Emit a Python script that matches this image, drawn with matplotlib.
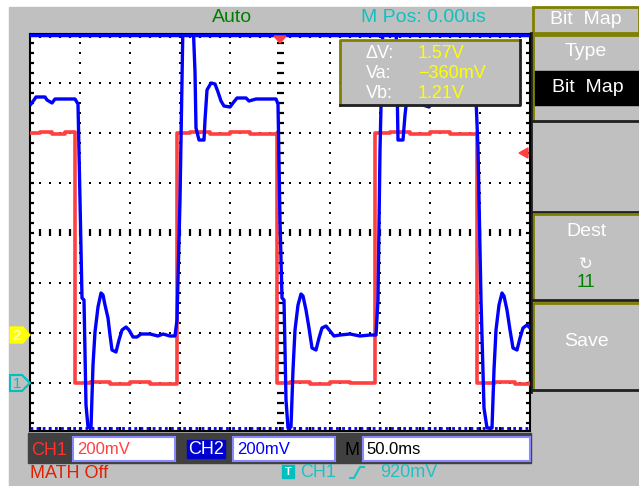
import numpy as np
import matplotlib
matplotlib.use("Agg")
import matplotlib.pyplot as plt
from matplotlib.patches import Rectangle, Polygon

# ---------------- data ----------------
time_per_div_ms = 50
ch1_scale_mv = 200
ch2_scale_mv = 200
ch1_offset_div = -3.0
ch2_offset_div = -2.1
trigger_level_mv = 920

# CH1 (red) square wave: time (ms from trigger) and level (mV)
ch1_t = [-250, -240, -228, -215, -205, -205, -190, -170, -150, -130, -103,
         -103, -90, -70, -50, -30, -3, -3, 10, 30, 50, 70, 95,
         95, 110, 130, 150, 170, 197, 197, 215, 235, 250]
ch1_mv = [1000, 1004, 996, 1004, 1000, 0, 4, -4, 4, -4, 0,
          1000, 1004, 996, 1004, 996, 1000, 0, 4, -4, 4, 0, 0,
          1000, 1004, 996, 1004, 996, 1000, 0, 4, -4, 0]

# CH2 (blue) response with ringing: time (ms) and level (mV)
ch2_t = [-249, -246, -244, -235, -233, -228, -225, -205, -202, -200, -198, -196,
         -194, -192, -189, -187, -185, -182, -179, -177, -175, -172, -170, -168,
         -164, -161, -158, -154, -151, -147, -143, -139, -130, -122, -117, -110,
         -105, -103, -100, -97, -87, -85, -84, -81, -76, -75, -73, -69,
         -65, -62, -59, -56, -50, -47, -43, -34, -31, -24, -4, -2,
         0, 2, 4, 6, 8, 11, 13, 15, 18, 21, 23, 26,
         29, 32, 36, 39, 42, 46, 50, 54, 60, 70, 80, 90,
         96, 98, 100, 103, 116, 118, 123, 125, 128, 132, 136, 140,
         143, 149, 153, 158, 170, 180, 196, 198, 201, 204, 207, 212,
         214, 216, 219, 222, 224, 227, 230, 233, 237, 240, 243, 247, 250]
ch2_mv = [936, 952, 964, 964, 952, 940, 956, 956, 936, 552, 160, 152,
          -268, -356, -360, -108, 24, 124, 180, 172, 132, 80, 12, -48,
          -56, -8, 32, 44, 32, 4, 4, 16, 16, 8, 16, 8,
          8, 72, 552, 1270, 1270, 1064, 840, 792, 792, 872, 992, 1020,
          1016, 984, 948, 928, 924, 940, 960, 960, 948, 956, 956, 936,
          472, 160, 152, -248, -360, -356, -128, 32, 132, 176, 168, 112,
          40, -40, -48, 0, 40, 48, 28, 8, 12, 16, 8, 12,
          12, 152, 752, 1270, 1270, 792, 792, 892, 1000, 1020, 1012, 964,
          932, 924, 944, 960, 956, 952, 956, 760, 152, -280, -360, -360,
          -128, 32, 132, 180, 168, 112, 32, -40, -48, 0, 40, 52, 40]

cursor_va_mv = -360
cursor_vb_mv = 1210
cursor_labels = ["\u0394V:", "Va:", "Vb:"]
cursor_values = ["1.57V", "\u2212360mV", "1.21V"]

# ---------------- figure ----------------
W, H = 639, 486
FONT = ["Liberation Sans", "DejaVu Sans"]
NARROW = ["Liberation Sans Narrow", "Liberation Sans", "DejaVu Sans"]
GRAY = "#c0c0c0"
OLIVE = "#808000"

fig = plt.figure(figsize=(W / 100, H / 100), dpi=100)
bg = fig.add_axes([0, 0, 1, 1])
bg.set_xlim(0, W)
bg.set_ylim(H, 0)
bg.axis("off")
bg.add_patch(Rectangle((0, 0), W, H, color="white"))
bg.add_patch(Rectangle((9, 7), W - 9, H - 7, color=GRAY))

# header texts
bg.text(232, 17, "Auto", color="#008000", fontsize=14, family=FONT, ha="center", va="center")
bg.text(423, 18, "M Pos: 0.00us", color="#10c0c0", fontsize=14, family=NARROW, ha="center", va="center")

# right-hand menu
def panel(y0, y1, olive=True):
    bg.add_patch(Rectangle((533, y0), W - 533, y1 - y0, color=GRAY))
    if olive:
        bg.plot([533, 533, W], [y1, y0, y0], color=OLIVE, lw=2, solid_capstyle="butt")
    bg.plot([531, W], [y1, y1], color="#202020", lw=2)

bg.add_patch(Rectangle((533, 7), W - 533, 26, facecolor=GRAY, edgecolor=OLIVE, lw=2))
bg.text(586, 20, "Bit  Map", color="white", fontsize=14, family=NARROW, ha="center", va="center")
panel(35, 121)
bg.text(586, 52, "Type", color="white", fontsize=14, family=NARROW, ha="center", va="center")
bg.add_patch(Rectangle((534, 71), W - 534, 34, color="black"))
bg.text(588, 88, "Bit  Map", color="white", fontsize=14, family=NARROW, ha="center", va="center")
panel(123, 212, olive=False)
panel(214, 300)
bg.text(586, 231, "Dest", color="white", fontsize=14, family=NARROW, ha="center", va="center")
bg.text(586, 264, "\u21bb", color="white", fontsize=12, family=["DejaVu Sans"], ha="center", va="center")
bg.text(586, 282, "11", color="#008000", fontsize=13, family=NARROW, ha="center", va="center")
panel(303, 390)
bg.text(586, 341, "Save", color="white", fontsize=14, family=NARROW, ha="center", va="center")
bg.plot([531, 531], [33, 392], color="#202020", lw=2)

# bottom status bar
bg.add_patch(Rectangle((28, 433), 503, 30, color="#404040"))
bg.text(31, 450, "CH1", color="#ff3030", fontsize=13, family=NARROW, ha="left", va="center")
bg.add_patch(Rectangle((73, 437), 102, 24, facecolor="white", edgecolor="#8888ff", lw=1.5))
bg.text(77, 449, "200mV", color="#ff4040", fontsize=12, family=NARROW, ha="left", va="center")
bg.add_patch(Rectangle((187, 440), 38, 18, color="#0000d0"))
bg.text(206, 449, "CH2", color="white", fontsize=13, family=NARROW, ha="center", va="center")
bg.add_patch(Rectangle((233, 437), 102, 24, facecolor="white", edgecolor="#8888ff", lw=1.5))
bg.text(237, 449, "200mV", color="#0000ff", fontsize=12, family=NARROW, ha="left", va="center")
bg.text(352, 450, "M", color="black", fontsize=13, family=NARROW, ha="center", va="center")
bg.add_patch(Rectangle((363, 437), 167, 24, facecolor="white", edgecolor="#8888ff", lw=1.5))
bg.text(366, 449, "50.0ms", color="black", fontsize=12, family=NARROW, ha="left", va="center")
bg.text(30, 473, "MATH Off", color="#e02000", fontsize=13, family=NARROW, ha="left", va="center")
bg.add_patch(Rectangle((282, 465), 12, 13, color="#00c0c0"))
bg.text(288, 472, "T", color="white", fontsize=8, family=FONT, ha="center", va="center", weight="bold")
bg.text(300, 472, "CH1", color="#20c0c0", fontsize=13, family=NARROW, ha="left", va="center")
bg.plot([350, 354, 360, 364], [478, 478, 467, 467], color="#20c0c0", lw=1.5)
bg.text(380, 472, "920mV", color="#20c0c0", fontsize=13, family=NARROW, ha="left", va="center")

# ---------------- scope screen ----------------
x0, x1, ytop, ybot = 30, 530, 34, 431
ax = fig.add_axes([x0 / W, 1 - ybot / H, (x1 - x0) / W, (ybot - ytop) / H])
half = 5 * time_per_div_ms
ax.set_xlim(-half, half)
ax.set_ylim((233 - ybot) / 50, (233 - ytop) / 50)
ax.set_facecolor("white")
for s in ax.spines.values():
    s.set_color("black")
    s.set_linewidth(1.5)
ax.set_xticks([])
ax.set_yticks([])

yl0, yl1 = ax.get_ylim()
pxy = 1 / 50.0  # one pixel in divisions
gk = dict(color="black", lw=1.6, zorder=1)
ys_dots = np.arange(-3.8, 3.9, 0.2)
xs_dots = np.arange(-240, 241, 10)
for k in range(-4, 5):
    if k == 0:
        continue
    xg = k * time_per_div_ms
    ax.plot(np.full(len(ys_dots), xg), ys_dots, ls="none", marker="s", ms=1.6, mew=0, color="black", zorder=1)
for k in range(-3, 4):
    if k == 0:
        continue
    ax.plot(xs_dots, np.full(len(xs_dots), k), ls="none", marker="s", ms=1.6, mew=0, color="black", zorder=1)
# centre axes ticks
ax.hlines(ys_dots, -3.5, 3.5, **gk)
ax.vlines(xs_dots, -3.5 * pxy, 3.5 * pxy, **gk)
# edge ticks
ax.hlines(ys_dots, -half, -half + 4, **gk)
ax.hlines(ys_dots, half - 4, half, **gk)
ax.vlines(xs_dots, yl0, yl0 + 4 * pxy, **gk)
ax.vlines(xs_dots, yl1 - 4 * pxy, yl1, **gk)

# traces
ch1_div = np.array(ch1_mv) / ch1_scale_mv + ch1_offset_div
ch2_div = np.array(ch2_mv) / ch2_scale_mv + ch2_offset_div
ax.plot(ch1_t, ch1_div, color="#ff4040", lw=2.6, drawstyle="steps-post", zorder=3)
ax.plot(ch2_t, ch2_div, color="#0000ff", lw=2.4, zorder=4)

# voltage cursors (CH2)
ax.axhline(cursor_vb_mv / ch2_scale_mv + ch2_offset_div, color="#0000ff", lw=2.5, zorder=5)
ax.axhline(cursor_va_mv / ch2_scale_mv + ch2_offset_div, color="#0000ff", lw=2, ls=(0, (1, 1.2)), zorder=5)

# ---------------- overlay ----------------
fg = fig.add_axes([0, 0, 1, 1])
fg.set_xlim(0, W)
fg.set_ylim(H, 0)
fg.axis("off")
fg.patch.set_alpha(0)

# cursor readout box
fg.add_patch(Rectangle((340, 40), 180, 65, color=GRAY))
fg.plot([340, 340, 520], [105, 40, 40], color=OLIVE, lw=2)
fg.plot([340, 520, 520], [105, 105, 40], color="#202020", lw=2)
for i, (lab, val) in enumerate(zip(cursor_labels, cursor_values)):
    yy = 53 + 20 * i
    fg.text(366, yy, lab, color="white", fontsize=13, family=NARROW, ha="left", va="center")
    fg.text(418, yy, val, color="#ffff00", fontsize=13, family=NARROW, ha="left", va="center")

# trigger position marker (top) and trigger level marker (right)
fg.add_patch(Polygon([[274, 36], [286, 36], [280, 43]], color="#ff4040"))
ty = 233 - (trigger_level_mv / ch1_scale_mv + ch1_offset_div) * 50
fg.add_patch(Polygon([[528, ty - 5], [528, ty + 5], [519, ty]], color="#ff4040"))

# channel ground markers
y2 = 233 - ch2_offset_div * 50 - 3
y1 = 233 - ch1_offset_div * 50
fg.add_patch(Polygon([[10, y2 - 8], [23, y2 - 8], [30, y2], [23, y2 + 8], [10, y2 + 8]], color="#ffff00"))
fg.text(17, y2 + 0.5, "2", color="#ffffc0", fontsize=11, family=FONT, ha="center", va="center", weight="bold")
fg.add_patch(Polygon([[10, y1 - 8], [22, y1 - 8], [30, y1], [22, y1 + 8], [10, y1 + 8]],
                     facecolor="none", edgecolor="#00c0c0", lw=1.5))
fg.text(17, y1 + 0.5, "1", color="#00c0c0", fontsize=11, family=FONT, ha="center", va="center")

fig.savefig("out.png", dpi=100)
